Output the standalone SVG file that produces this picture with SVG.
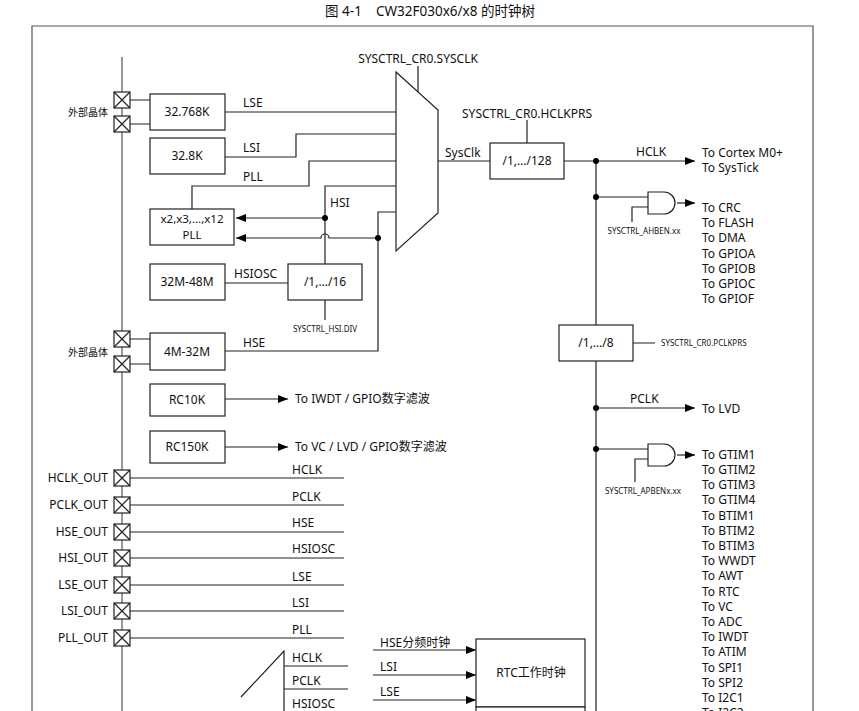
<svg xmlns="http://www.w3.org/2000/svg" width="859" height="711" viewBox="0 0 859 711">
<style>
text{font-family:"Noto Sans","Noto Sans CJK SC",sans-serif;font-size:12px;fill:#111}
.s{font-size:8px}
.t{font-size:13.5px}
.k{font-size:11.5px}
.m{text-anchor:middle}
.e{text-anchor:end}
.b{fill:#fff;stroke:#222;stroke-width:1.2}
.l{fill:none;stroke:#222;stroke-width:1.2}
.f{fill:none;stroke:#555;stroke-width:1.2}
</style>
<defs>
<marker id="a" markerWidth="10" markerHeight="8" refX="10" refY="4" orient="auto" markerUnits="userSpaceOnUse"><path d="M0,0L10,4L0,8z" fill="#000"/></marker>
<g id="pad"><rect x="-8" y="-8" width="16" height="16" class="b"/><path d="M-8,-8L8,8M8,-8L-8,8" class="l"/></g>
</defs>
<rect width="859" height="711" fill="#fff"/>
<text x="430" y="16" class="m t" xml:space="preserve">图 4-1    CW32F030x6/x8 的时钟树</text>
<path d="M32,711V26H813V711" class="f"/>
<g id="bus"><path d="M122,57V711" class="f"/></g>
<g id="connectors">
<path d="M130,100H150M130,124H150M130,339H150M130,364H150" class="l"/>
<path d="M225,112H396M225,157H296V134H396M192,209V186H309V161H396M325,264V186H396M225,351H378V212H396M225,283H288M325,300V320" class="l"/>
<path d="M325,218H236" class="l" marker-end="url(#a)"/>
<path d="M378,238H329A4,4 0 0 0 321,238H236" class="l" marker-end="url(#a)"/>
<circle cx="325" cy="218" r="3"/><circle cx="378" cy="238" r="3"/>
<path d="M418,66V92M527,120V143M438,161H490M596,161V711M633,343H655" class="l"/>
<path d="M564,161H695" class="l" marker-end="url(#a)"/>
<path d="M596,197H648M632,222V207H648M596,449H648M635,482V459H648" class="l"/>
<path d="M677,203H695" class="l" marker-end="url(#a)"/>
<path d="M677,455H695" class="l" marker-end="url(#a)"/>
<path d="M596,408H695" class="l" marker-end="url(#a)"/>
<circle cx="596" cy="161" r="3"/><circle cx="596" cy="197" r="3"/><circle cx="596" cy="408" r="3"/><circle cx="596" cy="449" r="3"/>
<path d="M225,399H288" class="l" marker-end="url(#a)"/>
<path d="M225,447H288" class="l" marker-end="url(#a)"/>
<path d="M130,478H344M130,505H344M130,532H344M130,558H344M130,585H344M130,611H344M130,638H344" class="l"/>
<path d="M241,697L284,651V711M284,666H348M284,689H348" class="l"/>
<path d="M373,650H476" class="l" marker-end="url(#a)"/>
<path d="M373,675H476" class="l" marker-end="url(#a)"/>
<path d="M373,700H476" class="l" marker-end="url(#a)"/>
</g>
<g id="pads">
<use href="#pad" x="122" y="100"/><use href="#pad" x="122" y="124"/>
<use href="#pad" x="122" y="339"/><use href="#pad" x="122" y="364"/>
<use href="#pad" x="122" y="478"/><use href="#pad" x="122" y="505"/><use href="#pad" x="122" y="532"/><use href="#pad" x="122" y="558"/><use href="#pad" x="122" y="585"/><use href="#pad" x="122" y="611"/><use href="#pad" x="122" y="638"/>
<text x="108" y="116" class="e" style="font-size:10px">外部晶体</text>
<text x="108" y="356" class="e" style="font-size:10px">外部晶体</text>
<g style="font-size:10px">
<text x="108" y="482" class="e">HCLK_OUT</text><text x="108" y="509" class="e">PCLK_OUT</text><text x="108" y="536" class="e">HSE_OUT</text><text x="108" y="562" class="e">HSI_OUT</text><text x="108" y="589" class="e">LSE_OUT</text><text x="108" y="615" class="e">LSI_OUT</text><text x="108" y="642" class="e">PLL_OUT</text>
</g>
</g>
<g id="n32768"><rect x="150" y="94" width="75" height="36" class="b"/><text x="187" y="116" class="m">32.768K</text></g>
<g id="n328"><rect x="150" y="138" width="75" height="36" class="b"/><text x="187" y="160" class="m">32.8K</text></g>
<g id="pll"><rect x="150" y="209" width="84" height="36" class="b"/><text x="192" y="223" class="m k">x2,x3,...,x12</text><text x="192" y="239" class="m k">PLL</text></g>
<g id="hsiosc"><rect x="150" y="264" width="75" height="36" class="b"/><text x="187" y="286" class="m">32M-48M</text></g>
<g id="hsidiv"><rect x="288" y="264" width="74" height="36" class="b"/><text x="325" y="286" class="m">/1,…/16</text></g>
<g id="hse"><rect x="150" y="333" width="75" height="37" class="b"/><text x="187" y="356" class="m">4M-32M</text></g>
<g id="mux"><path d="M396,72L438,110V213L396,251z" class="b"/></g>
<g id="hclkdiv"><rect x="490" y="143" width="74" height="36" class="b"/><text x="527" y="165" class="m">/1,…/128</text></g>
<g id="pclkdiv"><rect x="559" y="325" width="74" height="36" class="b"/><text x="596" y="347" class="m">/1,…/8</text></g>
<g id="ahbgate"><path d="M648,192H664A11,11 0 0 1 664,214H648z" class="b"/></g>
<g id="apbgate"><path d="M648,444H664A11,11 0 0 1 664,466H648z" class="b"/></g>
<g id="rc10k"><rect x="150" y="384" width="75" height="32" class="b"/><text x="187" y="404" class="m">RC10K</text></g>
<g id="rc150k"><rect x="150" y="431" width="75" height="32" class="b"/><text x="187" y="451" class="m">RC150K</text></g>
<g id="rtc"><rect x="476" y="639" width="109" height="68" class="b"/><text x="531" y="677" class="m">RTC工作时钟</text><rect x="476" y="707" width="109" height="10" class="b"/></g>
<g id="labels">
<text x="418" y="63" class="m">SYSCTRL_CR0.SYSCLK</text>
<text x="243" y="107">LSE</text><text x="243" y="152">LSI</text><text x="243" y="181">PLL</text><text x="330" y="207">HSI</text><text x="234" y="278">HSIOSC</text><text x="243" y="347">HSE</text>
<text x="325" y="332" class="m s">SYSCTRL_HSI.DIV</text>
<text x="527" y="118" class="m">SYSCTRL_CR0.HCLKPRS</text>
<text x="445" y="157">SysClk</text>
<text x="636" y="156">HCLK</text>
<text x="702" y="157">To Cortex M0+</text><text x="702" y="172">To SysTick</text>
<text x="644" y="234" class="m s">SYSCTRL_AHBEN.xx</text>
<g class="k">
<text x="702" y="212">To CRC</text><text x="702" y="227">To FLASH</text><text x="702" y="242">To DMA</text><text x="702" y="258">To GPIOA</text><text x="702" y="273">To GPIOB</text><text x="702" y="288">To GPIOC</text><text x="702" y="303">To GPIOF</text>
</g>
<text x="661" y="346" class="s">SYSCTRL_CR0.PCLKPRS</text>
<text x="630" y="403">PCLK</text><text x="702" y="413">To LVD</text>
<text x="643" y="494" class="m s">SYSCTRL_APBENx.xx</text>
<g class="k">
<text x="702" y="459">To GTIM1</text><text x="702" y="474">To GTIM2</text><text x="702" y="489">To GTIM3</text><text x="702" y="504">To GTIM4</text><text x="702" y="520">To BTIM1</text><text x="702" y="535">To BTIM2</text><text x="702" y="550">To BTIM3</text><text x="702" y="565">To WWDT</text><text x="702" y="580">To AWT</text><text x="702" y="596">To RTC</text><text x="702" y="611">To VC</text><text x="702" y="626">To ADC</text><text x="702" y="641">To IWDT</text><text x="702" y="656">To ATIM</text><text x="702" y="672">To SPI1</text><text x="702" y="687">To SPI2</text><text x="702" y="702">To I2C1</text><text x="702" y="717">To I2C2</text>
</g>
<text x="295" y="403">To IWDT / GPIO数字滤波</text>
<text x="295" y="451">To VC / LVD / GPIO数字滤波</text>
<text x="292" y="474">HCLK</text><text x="292" y="501">PCLK</text><text x="292" y="527">HSE</text><text x="292" y="553">HSIOSC</text><text x="292" y="581">LSE</text><text x="292" y="607">LSI</text><text x="292" y="634">PLL</text>
<text x="292" y="662">HCLK</text><text x="292" y="685">PCLK</text><text x="292" y="708">HSIOSC</text>
<text x="380" y="647">HSE分频时钟</text><text x="380" y="671">LSI</text><text x="380" y="696">LSE</text>
</g>
</svg>
